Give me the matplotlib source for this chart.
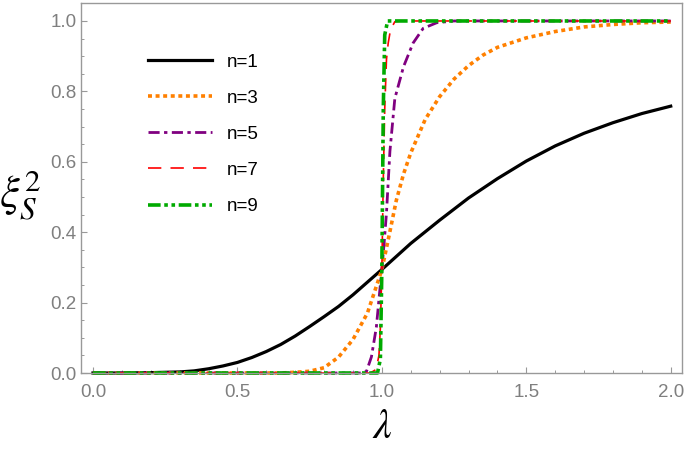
import matplotlib
matplotlib.use("Agg")
import matplotlib.pyplot as plt
from matplotlib.ticker import MultipleLocator, FormatStrFormatter

plt.rcParams['font.family'] = ['Liberation Sans', 'DejaVu Sans']
plt.rcParams['mathtext.fontset'] = 'stix'

# values
lam1 = [0.0, 0.1, 0.2, 0.3, 0.35, 0.4, 0.45, 0.5, 0.55, 0.6, 0.65, 0.7, 0.75, 0.8, 0.85, 0.9, 0.95, 1.0,
        1.1, 1.2, 1.3, 1.4, 1.5, 1.6, 1.7, 1.8, 1.9, 2.0]
xi1 = [0.0, 0.0, 0.001, 0.003, 0.006, 0.012, 0.02, 0.03, 0.044, 0.061, 0.081, 0.105, 0.132, 0.16, 0.189,
       0.222, 0.258, 0.294, 0.368, 0.434, 0.497, 0.552, 0.602, 0.645, 0.681, 0.711, 0.737, 0.758]

lam3 = [0.0, 0.65, 0.7, 0.75, 0.8, 0.85, 0.9, 0.95, 1.0, 1.025, 1.05, 1.075, 1.1, 1.15, 1.2, 1.25, 1.3,
        1.35, 1.4, 1.5, 1.6, 1.7, 1.8, 1.9, 2.0]
xi3 = [0.0, 0.0, 0.002, 0.005, 0.015, 0.045, 0.095, 0.17, 0.293, 0.39, 0.49, 0.565, 0.625, 0.72, 0.785,
       0.835, 0.873, 0.903, 0.925, 0.952, 0.97, 0.983, 0.99, 0.995, 0.997]

lam5 = [0.0, 0.93, 0.947, 0.964, 0.981, 0.993, 1.0, 1.008, 1.016, 1.028, 1.045, 1.075, 1.108, 1.143,
        1.19, 1.25, 2.0]
xi5 = [0.0, 0.0, 0.005, 0.046, 0.13, 0.235, 0.293, 0.37, 0.454, 0.63, 0.78, 0.87, 0.937, 0.979, 0.995,
       1.0, 1.0]

lam7 = [0.0, 0.96, 0.98, 0.99, 0.995, 1.0, 1.005, 1.01, 1.016, 1.022, 1.03, 1.045, 1.07, 2.0]
xi7 = [0.0, 0.0, 0.01, 0.05, 0.13, 0.293, 0.55, 0.75, 0.89, 0.937, 0.975, 0.998, 1.0, 1.0]

lam9 = [0.0, 0.985, 0.995, 1.0, 1.005, 1.01, 1.02, 2.0]
xi9 = [0.0, 0.0, 0.04, 0.293, 0.75, 0.96, 1.0, 1.0]

labels = ["n=1", "n=3", "n=5", "n=7", "n=9"]

fig = plt.figure(figsize=(6.85, 4.5), dpi=100)
ax = fig.add_axes([0.1182, 0.1711, 0.8774, 0.8222])

ax.plot(lam1, xi1, color='black', lw=2.3, label=labels[0], clip_on=False)
ax.plot(lam3, xi3, color='#ff8000', lw=2.6, dashes=(1.1, 1.0), label=labels[1], clip_on=False)
ax.plot(lam5, xi5, color='#800080', lw=2.0, dashes=(4.0, 1.6, 1.2, 1.6), label=labels[2], clip_on=False)
ax.plot(lam7, xi7, color='#ff0000', lw=1.2, dashes=(8.0, 5.5), label=labels[3], clip_on=False)
ax.plot(lam9, xi9, color='#00aa00', lw=2.6, dashes=(3.5, 1.0, 1.0, 1.0, 1.0, 1.0), label=labels[4],
        clip_on=False)

ax.set_xlim(-0.0415, 2.039)
ax.set_ylim(0.0, 1.051)

ax.xaxis.set_major_locator(MultipleLocator(0.5))
ax.xaxis.set_minor_locator(MultipleLocator(0.1))
ax.yaxis.set_major_locator(MultipleLocator(0.2))
ax.yaxis.set_minor_locator(MultipleLocator(0.05))
ax.xaxis.set_major_formatter(FormatStrFormatter('%.1f'))
ax.yaxis.set_major_formatter(FormatStrFormatter('%.1f'))

gray = '#999999'
for s in ax.spines.values():
    s.set_color(gray)
    s.set_linewidth(1.0)
ax.tick_params(which='both', direction='in', color=gray, labelcolor='#7f7f7f', labelsize=13.5,
               top=False, right=False)
ax.tick_params(which='major', length=4.5, width=0.8)
ax.tick_params(which='minor', length=2.5, width=0.7)
ax.tick_params(axis='x', which='major', pad=8)
ax.tick_params(axis='y', which='major', pad=3)

leg = ax.legend(loc='upper left', bbox_to_anchor=(0.112, 0.863), frameon=False, fontsize=13.5,
                handlelength=3.4, handletextpad=0.8, labelspacing=1.01, borderpad=0, borderaxespad=0)

fig.text(0.558, 0.05, r'$\lambda$', fontsize=30, ha='center', va='center')
fig.text(0.03, 0.565, r'$\xi_S^2$', fontsize=32, ha='center', va='center')

fig.savefig('out.png', dpi=100)
